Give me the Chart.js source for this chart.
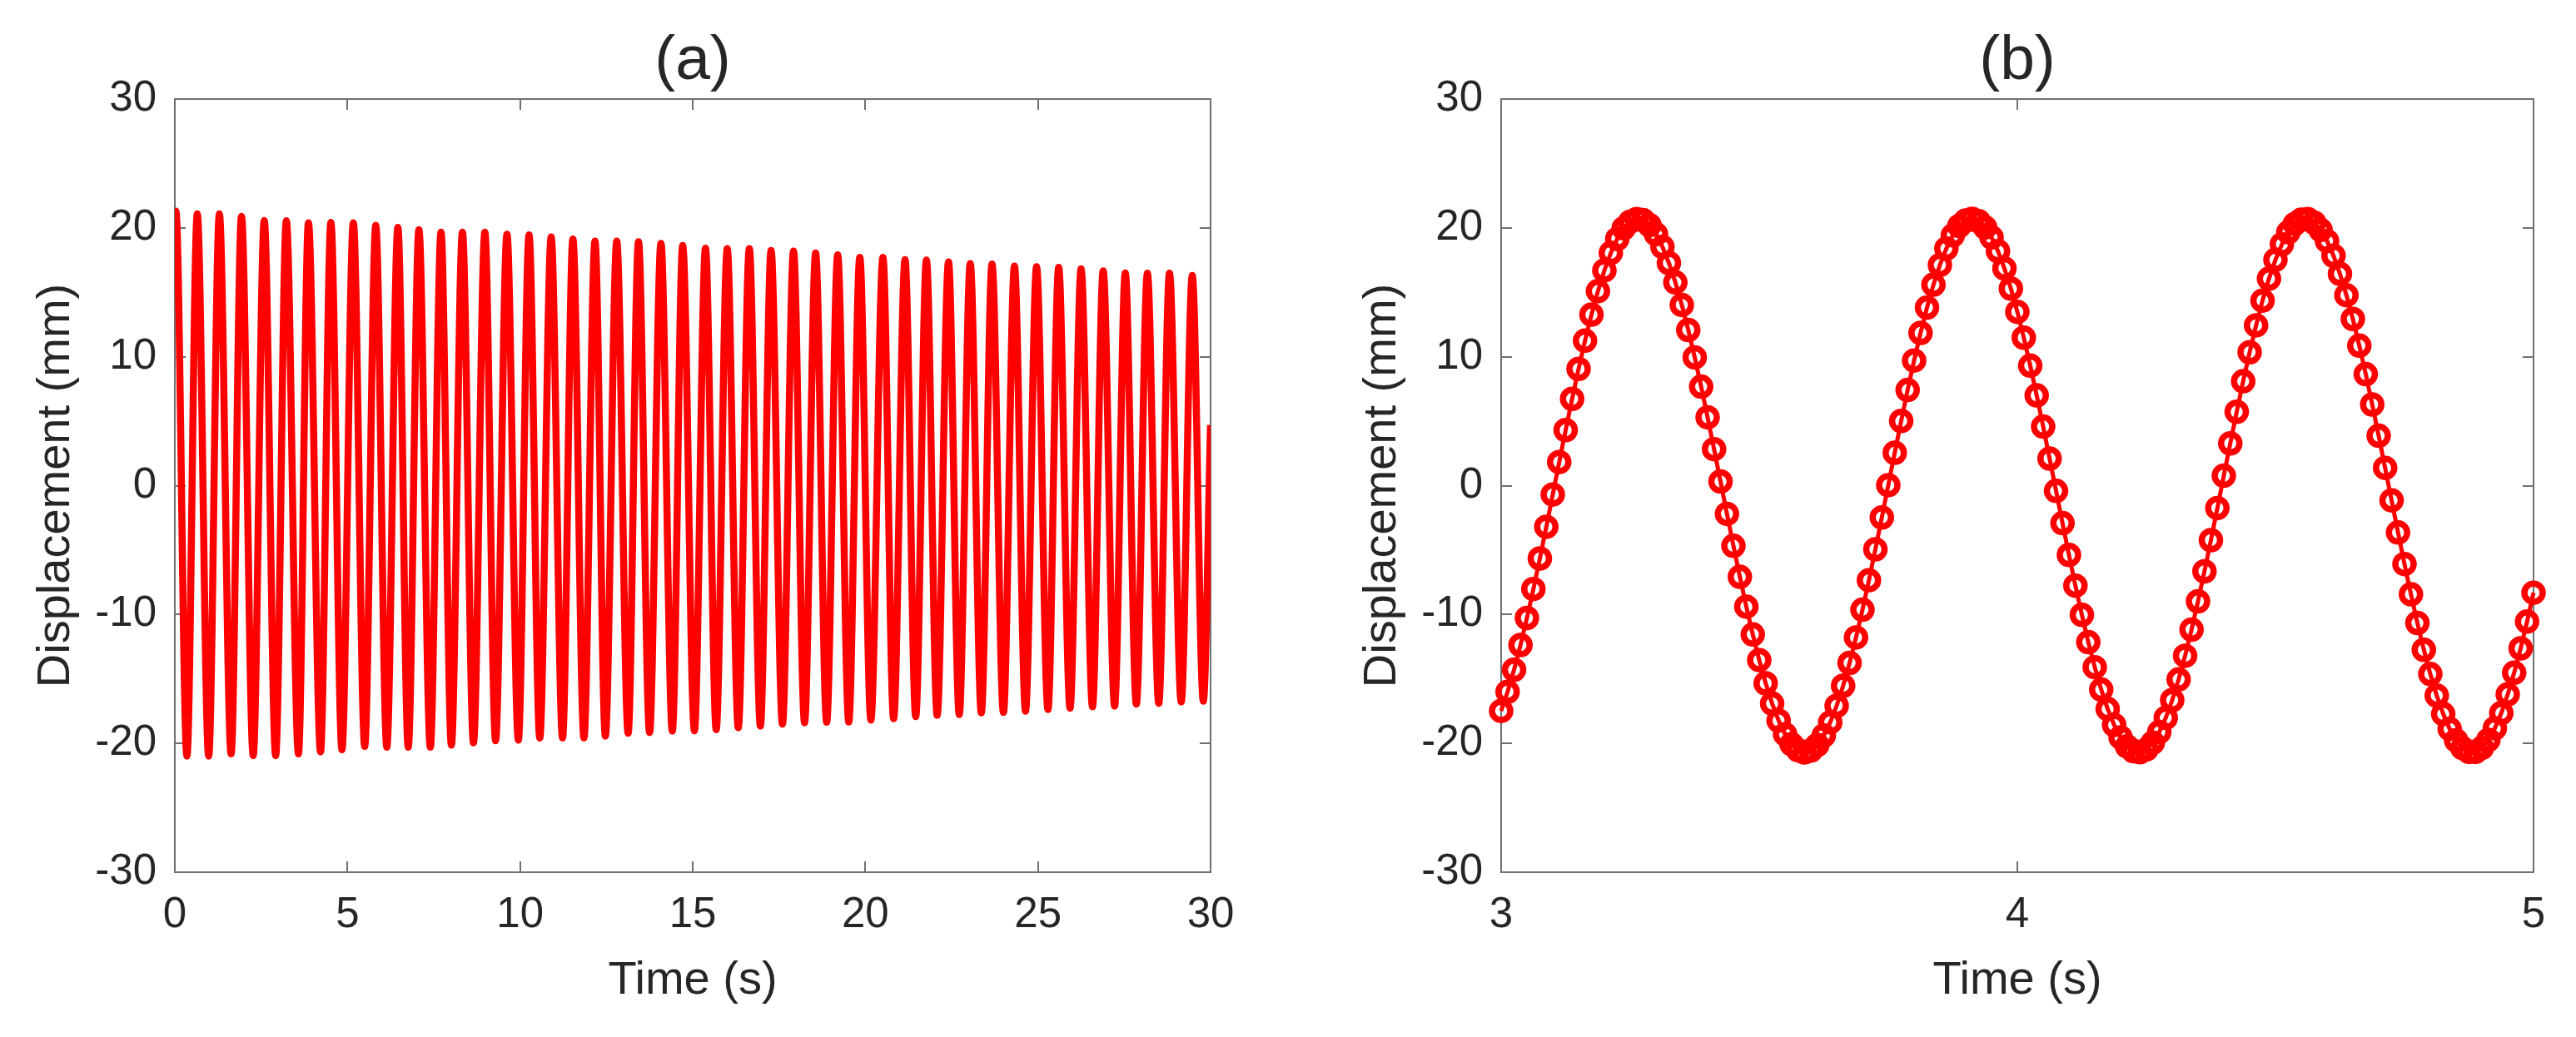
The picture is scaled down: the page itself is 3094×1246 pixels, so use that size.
<!DOCTYPE html>
<html>
<head>
<meta charset="utf-8">
<script src="https://cdn.jsdelivr.net/npm/chart.js@4.4.1/dist/chart.umd.min.js"></script>
<style>
  html, body { margin: 0; padding: 0; background: #ffffff; }
  #wrap { position: relative; width: 3094px; height: 1246px; background: #ffffff; }
  canvas { position: absolute; top: 0; }
  #ca { left: 0px; }
  #cb { left: 1550px; }
</style>
</head>
<body>
<div id="wrap">
  <canvas id="ca" width="1550" height="1246"></canvas>
  <canvas id="cb" width="1544" height="1246"></canvas>
</div>
<script>
// ---------------- Data ----------------
const titleA = '(a)';
const titleB = '(b)';
const xTitle = 'Time (s)';
const yTitle = 'Displacement (mm)';

// Panel (a): start point, peaks, troughs and end point of the response, 0-30 s
const aStart = [0, 20.0];
const aEnd = [30, 4.7];
const peakTimes = [0.03, 0.65, 1.29, 1.93, 2.59, 3.23, 3.87, 4.52, 5.17, 5.82,
  6.46, 7.07, 7.71, 8.33, 8.98, 9.62, 10.26, 10.90, 11.53, 12.17,
  12.80, 13.43, 14.08, 14.71, 15.37, 16.00, 16.64, 17.27, 17.92, 18.56,
  19.20, 19.84, 20.51, 21.15, 21.77, 22.41, 23.04, 23.67, 24.32, 24.96,
  25.60, 26.25, 26.89, 27.53, 28.17, 28.81, 29.47];
const peakValues = [21.3, 21.08, 21.08, 20.9, 20.57, 20.55, 20.4, 20.42, 20.4, 20.2,
  20.03, 19.86, 19.66, 19.66, 19.66, 19.51, 19.45, 19.29, 19.13, 18.97,
  18.97, 18.93, 18.8, 18.63, 18.42, 18.39, 18.39, 18.24, 18.2, 18.05,
  17.9, 17.72, 17.71, 17.53, 17.51, 17.36, 17.23, 17.19, 17.03, 16.99,
  16.93, 16.82, 16.67, 16.5, 16.48, 16.48, 16.3];
const troughTimes = [0.35, 0.98, 1.63, 2.27, 2.92, 3.58, 4.22, 4.84, 5.50, 6.14,
  6.76, 7.40, 8.01, 8.65, 9.29, 9.95, 10.57, 11.23, 11.85, 12.47,
  13.13, 13.75, 14.41, 15.05, 15.68, 16.32, 16.96, 17.60, 18.24, 18.88,
  19.52, 20.16, 20.82, 21.46, 22.08, 22.72, 23.36, 24.00, 24.64, 25.29,
  25.93, 26.58, 27.22, 27.85, 28.50, 29.15, 29.79];
const troughValues = [-20.99, -20.99, -20.82, -20.95, -20.95, -20.82, -20.66, -20.5, -20.24, -20.3,
  -20.3, -20.3, -20.13, -19.95, -19.8, -19.74, -19.59, -19.59, -19.59, -19.44,
  -19.22, -19.16, -19.05, -19.03, -18.94, -18.79, -18.66, -18.51, -18.4, -18.36,
  -18.34, -18.19, -18.08, -17.93, -17.82, -17.76, -17.63, -17.59, -17.5, -17.37,
  -17.27, -17.16, -17.11, -16.96, -16.9, -16.79, -16.72];

// Panel (b): sampled response between 3 s and 5 s (one marker per sample)
const bTime = [3, 3.0125, 3.025, 3.0375, 3.05, 3.0625, 3.075, 3.0875, 3.1, 3.1125,
  3.125, 3.1375, 3.15, 3.1625, 3.175, 3.1875, 3.2, 3.2125, 3.225, 3.2375,
  3.25, 3.2625, 3.275, 3.2875, 3.3, 3.3125, 3.325, 3.3375, 3.35, 3.3625,
  3.375, 3.3875, 3.4, 3.4125, 3.425, 3.4375, 3.45, 3.4625, 3.475, 3.4875,
  3.5, 3.5125, 3.525, 3.5375, 3.55, 3.5625, 3.575, 3.5875, 3.6, 3.6125,
  3.625, 3.6375, 3.65, 3.6625, 3.675, 3.6875, 3.7, 3.7125, 3.725, 3.7375,
  3.75, 3.7625, 3.775, 3.7875, 3.8, 3.8125, 3.825, 3.8375, 3.85, 3.8625,
  3.875, 3.8875, 3.9, 3.9125, 3.925, 3.9375, 3.95, 3.9625, 3.975, 3.9875,
  4, 4.0125, 4.025, 4.0375, 4.05, 4.0625, 4.075, 4.0875, 4.1, 4.1125,
  4.125, 4.1375, 4.15, 4.1625, 4.175, 4.1875, 4.2, 4.2125, 4.225, 4.2375,
  4.25, 4.2625, 4.275, 4.2875, 4.3, 4.3125, 4.325, 4.3375, 4.35, 4.3625,
  4.375, 4.3875, 4.4, 4.4125, 4.425, 4.4375, 4.45, 4.4625, 4.475, 4.4875,
  4.5, 4.5125, 4.525, 4.5375, 4.55, 4.5625, 4.575, 4.5875, 4.6, 4.6125,
  4.625, 4.6375, 4.65, 4.6625, 4.675, 4.6875, 4.7, 4.7125, 4.725, 4.7375,
  4.75, 4.7625, 4.775, 4.7875, 4.8, 4.8125, 4.825, 4.8375, 4.85, 4.8625,
  4.875, 4.8875, 4.9, 4.9125, 4.925, 4.9375, 4.95, 4.9625, 4.975, 4.9875,
  5];
const bDisp = [-17.48, -16.00, -14.29, -12.37, -10.27, -8.02, -5.65, -3.19, -0.69, 1.83,
  4.31, 6.73, 9.06, 11.25, 13.27, 15.09, 16.70, 18.06, 19.15, 19.97,
  20.48, 20.69, 20.60, 20.21, 19.51, 18.53, 17.28, 15.77, 14.02, 12.08,
  9.95, 7.68, 5.30, 2.83, 0.32, -2.19, -4.67, -7.08, -9.39, -11.55,
  -13.54, -15.34, -16.91, -18.23, -19.29, -20.06, -20.53, -20.70, -20.56, -20.12,
  -19.39, -18.37, -17.08, -15.53, -13.76, -11.78, -9.63, -7.34, -4.94, -2.47,
  0.04, 2.55, 5.02, 7.42, 9.71, 11.85, 13.82, 15.59, 17.12, 18.40,
  19.42, 20.15, 20.57, 20.70, 20.52, 20.04, 19.26, 18.20, 16.86, 15.29,
  13.49, 11.48, 9.31, 7.00, 4.58, 2.10, -0.41, -2.91, -5.38, -7.76,
  -10.03, -12.15, -14.09, -15.83, -17.33, -18.57, -19.54, -20.23, -20.61, -20.69,
  -20.47, -19.94, -19.12, -18.02, -16.65, -15.04, -13.20, -11.17, -8.98, -6.65,
  -4.23, -1.74, 0.77, 3.28, 5.73, 8.10, 10.35, 12.44, 14.36, 16.06,
  17.53, 18.73, 19.66, 20.30, 20.64, 20.68, 20.41, 19.84, 18.98, 17.84,
  16.43, 14.78, 12.93, 10.86, 8.65, 6.30, 3.87, 1.38, -1.14, -3.64,
  -6.08, -8.43, -10.66, -12.74, -14.62, -16.29, -17.72, -18.88, -19.77, -20.37,
  -20.66, -20.66, -20.35, -19.73, -18.83, -17.65, -16.20, -14.52, -12.63, -10.55,
  -8.31];

// Axis tick settings
const aXRange = [0, 30], aXStep = 5;
const bXRange = [3, 5], bXStep = 1;
const yRange = [-30, 30], yStep = 10;

// ---------------- Build point tables ----------------
const aPoints = [{x: aStart[0], y: aStart[1]}];
peakTimes.forEach((t, i) => aPoints.push({x: t, y: peakValues[i]}));
troughTimes.forEach((t, i) => aPoints.push({x: t, y: troughValues[i]}));
aPoints.push({x: aEnd[0], y: aEnd[1]});
aPoints.sort((p, q) => p.x - q.x);
const bPoints = bTime.map((t, i) => ({x: t, y: bDisp[i]}));

// ---------------- Styling ----------------
const FONT = "'Liberation Sans', Arial, Helvetica, sans-serif";
const TXT = '#262626';
const AXC = '#707070';
Chart.defaults.font.family = FONT;
Chart.defaults.color = TXT;

const boxPlugin = {
  id: 'matlabBox',
  beforeDatasetsDraw(chart) {
    const {ctx, chartArea: a, scales} = chart;
    const x = scales.x, y = scales.y;
    const L = 13;
    ctx.save();
    ctx.strokeStyle = AXC;
    ctx.lineWidth = 2;
    ctx.strokeRect(a.left, a.top, a.right - a.left, a.bottom - a.top);
    ctx.beginPath();
    x.ticks.forEach(t => {
      const px = Math.round(x.getPixelForValue(t.value));
      ctx.moveTo(px, a.bottom); ctx.lineTo(px, a.bottom - L);
      ctx.moveTo(px, a.top); ctx.lineTo(px, a.top + L);
    });
    y.ticks.forEach(t => {
      const py = Math.round(y.getPixelForValue(t.value));
      ctx.moveTo(a.left, py); ctx.lineTo(a.left + L, py);
      ctx.moveTo(a.right, py); ctx.lineTo(a.right - L, py);
    });
    ctx.stroke();
    ctx.restore();
  },
  afterDraw(chart, args, opts) {
    const {ctx, chartArea: a} = chart;
    ctx.save();
    ctx.fillStyle = TXT;
    ctx.font = '75px ' + FONT;
    ctx.textAlign = 'center';
    ctx.textBaseline = 'middle';
    ctx.fillText(opts.text, (a.left + a.right) / 2, 74.5);
    ctx.restore();
  }
};

function makeOptions(xRange, xStep, yAxisWidth, yTitlePad, rightPad, title) {
  return {
    responsive: false,
    animation: false,
    devicePixelRatio: 1,
    layout: { padding: { top: 119, right: rightPad, left: 0, bottom: 0 } },
    plugins: {
      legend: { display: false },
      tooltip: { enabled: false },
      title: { display: false },
      matlabBox: { text: title }
    },
    scales: {
      x: {
        type: 'linear',
        min: xRange[0], max: xRange[1],
        grid: { display: false, drawTicks: false },
        border: { display: false },
        ticks: { stepSize: xStep, padding: 21, maxRotation: 0, color: TXT,
                 font: { size: 51, family: FONT } },
        title: { display: true, text: xTitle, color: TXT,
                 font: { size: 56, family: FONT }, padding: { top: 0, bottom: 34 } },
        afterFit: s => { s.height = 198; }
      },
      y: {
        type: 'linear',
        min: yRange[0], max: yRange[1],
        grid: { display: false, drawTicks: false },
        border: { display: false },
        ticks: { stepSize: yStep, padding: 22, color: TXT,
                 font: { size: 51, family: FONT } },
        title: { display: true, text: yTitle, color: TXT,
                 font: { size: 56, family: FONT }, padding: { top: yTitlePad, bottom: 0 } },
        afterFit: s => { s.width = yAxisWidth; }
      }
    }
  };
}

new Chart(document.getElementById('ca'), {
  type: 'line',
  data: {
    datasets: [{
      data: aPoints,
      borderColor: '#ff0000',
      borderWidth: 8.5,
      pointRadius: 0,
      fill: false,
      cubicInterpolationMode: 'monotone'
    }]
  },
  options: makeOptions(aXRange, aXStep, 210, 34, 96, titleA),
  plugins: [boxPlugin]
});

new Chart(document.getElementById('cb'), {
  type: 'line',
  data: {
    datasets: [{
      data: bPoints,
      borderColor: '#ff0000',
      borderWidth: 5,
      tension: 0,
      fill: false,
      clip: false,
      pointRadius: 11,
      pointBorderWidth: 7.5,
      pointBorderColor: '#ff0000',
      pointBackgroundColor: 'rgba(0,0,0,0)'
    }]
  },
  options: makeOptions(bXRange, bXStep, 253, 77, 51, titleB),
  plugins: [boxPlugin]
});
</script>
</body>
</html>
